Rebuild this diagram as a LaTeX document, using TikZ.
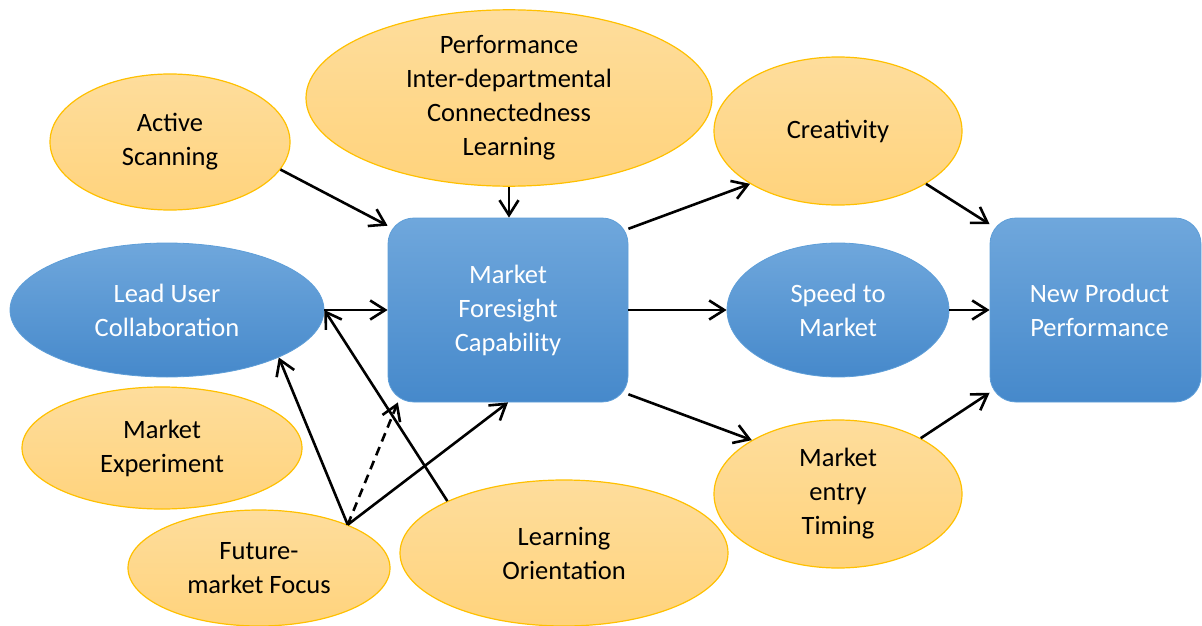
\documentclass[tikz,border=0pt]{standalone}
\usepackage{fontspec}
\setmainfont{Carlito}
\usetikzlibrary{arrows.meta, shapes.geometric}

\definecolor{orangetop}{HTML}{FEDD9C}
\definecolor{orangebot}{HTML}{FFD37C}
\definecolor{orangeline}{HTML}{FFC000}
\definecolor{bluetop}{HTML}{6FA7DC}
\definecolor{bluebot}{HTML}{4689CB}
\definecolor{blueline}{HTML}{5E9ED8}

\begin{document}
\begin{tikzpicture}[x=1pt, y=-1pt]
			\tikzset {>={Straight Barb[length=15pt, width=19pt, line width=2.6pt]}, arrow/.style={->, line width=2.6pt},
				every node/.style={font=\fontsize{26.5}{34}\selectfont, align=center, inner sep=0pt},
				orangeell/.style={ellipse, draw=orangeline, line width=1.2pt, top color=orangetop, bottom color=orangebot, text=black},
				blueell/.style={ellipse, draw=blueline, line width=0.8pt, top color=bluetop, bottom color=bluebot, text=white},
				bluebox/.style={rectangle, rounded corners=26pt, draw=blueline, line width=0.8pt, top color=bluetop, bottom color=bluebot, text=white} }
			\useasboundingbox (0,0) rectangle (1202,626);

			\node[orangeell, minimum width=240pt, minimum height=136pt] (scan) at (170,142) {Active\\Scanning};
			\node[orangeell, minimum width=406pt, minimum height=176pt] (perf) at (509,98) {Performance\\Inter-departmental\\Connectedness\\Learning};
			\node[orangeell, minimum width=248pt, minimum height=148pt] (creat) at (838,131) {Creativity};
			\node[blueell, minimum width=314pt, minimum height=134pt] (lead) at (167,310) {Lead User\\Collaboration};
			\node[bluebox, minimum width=240pt, minimum height=184pt] (mfc) at (508,310) {Market\\Foresight\\Capability};
			\node[blueell, minimum width=222pt, minimum height=134pt] (speed) at (838,310) {Speed to\\Market};
			\node[bluebox, minimum width=211pt, minimum height=184pt] (npp) at (1095.5,310) {\hspace*{8pt}New Product\\\hspace*{8pt}Performance};
			\node[orangeell, minimum width=280pt, minimum height=122pt] (exper) at (162,448) {Market\\Experiment};
			\node[orangeell, minimum width=262pt, minimum height=116pt] (future) at (259,568) {Future-\\market Focus};
			\node[orangeell, minimum width=328pt, minimum height=146pt] (learn) at (564,553) {Learning\\Orientation};
			\node[orangeell, minimum width=248pt, minimum height=148pt] (timing) at (838,494) {Market\\entry\\Timing};

			\draw[arrow] (scan.-14) -- (mfc.145);
			\draw[arrow] (perf.south) -- (perf.south |- mfc.north);
			\draw[arrow] (lead.east) -- (mfc.west);
			\draw[arrow] (mfc.34) -- (creat.211);
			\draw[arrow] (mfc.east) -- (speed.west);
			\draw[arrow] (mfc.-35) -- (timing.148);
			\draw[arrow] (creat.-31) -- (npp.141);
			\draw[arrow] (speed.east) -- (npp.west);
			\draw[arrow] (timing.34) -- (npp.-142);
			\draw[arrow] (future.26) -- (lead.-23);
			\draw[arrow] (future.26) -- (mfc.south);
			\draw[arrow, dashed, dash pattern=on 9pt off 6pt] (future.26) -- (mfc.-140);
			\draw[arrow] (learn.156) -- (lead.east);
		\end{tikzpicture}
\end{document}
